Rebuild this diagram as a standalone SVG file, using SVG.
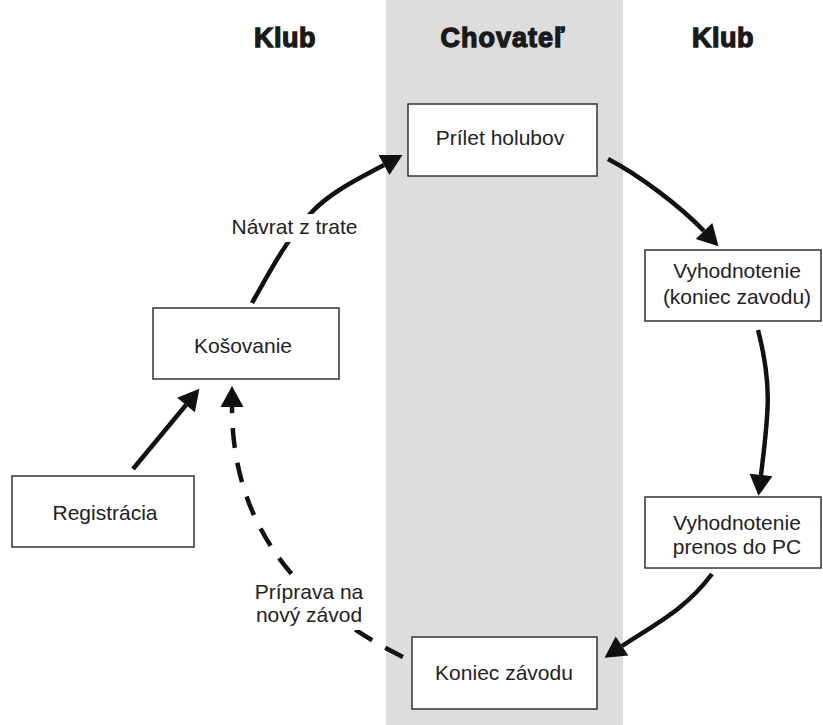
<svg xmlns="http://www.w3.org/2000/svg" width="823" height="725" viewBox="0 0 823 725">
<style>
.box{fill:#fff;stroke:#333;stroke-width:1.5}
.t{font-family:"Liberation Sans",Arial,sans-serif;font-size:21px;fill:#222;text-anchor:middle}
.h{font-family:"Liberation Sans",Arial,sans-serif;font-weight:bold;font-size:27px;fill:#1a1a1a;stroke:#1a1a1a;stroke-width:1.3;text-anchor:middle;letter-spacing:0.5px}
.c{fill:none;stroke:#111;stroke-width:4.5;marker-end:url(#ah)}
.d{stroke-dasharray:20 15}
.bg{fill:#fff}
</style>
<defs>
<marker id="ah" markerUnits="userSpaceOnUse" viewBox="0 0 21 23" refX="0" refY="11.5" markerWidth="21" markerHeight="23" orient="auto" overflow="visible">
<path d="M0,0 L21,11.5 L0,23 Z" fill="#111"/>
</marker>
</defs>
<rect x="386" y="0" width="237" height="725" fill="#dddddd"/>
<g id="headers">
<text class="h" x="285" y="47">Klub</text>
<text class="h" x="503" y="47" style="letter-spacing:1px">Chovateľ</text>
<text class="h" x="723" y="47">Klub</text>
</g>
<g id="connectors">
<path class="c" d="M252,303 C268,275 286,240 310,214 C330,192 360,178 384,165"/>
<rect class="bg" x="229" y="214" width="131" height="28"/>
<text class="t" x="294.5" y="234">Návrat z trate</text>
<path class="c" d="M608,159 C639,175 680,206 704,231"/>
<path class="c" d="M758,330 C773,388 768,416 761,475"/>
<path class="c" d="M712,574 C685,610 655,624 622,646"/>
<path class="c" d="M133,469 L186,405"/>
<path class="c d" d="M403,657 Q232,572 232,407"/>
<rect class="bg" x="252" y="580" width="114" height="50"/>
<text class="t" x="309" y="599">Príprava na</text>
<text class="t" x="309" y="622">nový závod</text>
</g>
<g id="prilet">
<rect class="box" x="408" y="104" width="189" height="72"/>
<text class="t" x="500" y="145">Prílet holubov</text>
</g>
<g id="vyhodnotenie1">
<rect class="box" x="645" y="250" width="176" height="71"/>
<text class="t" x="737" y="278">Vyhodnotenie</text>
<text class="t" x="737" y="304">(koniec zavodu)</text>
</g>
<g id="vyhodnotenie2">
<rect class="box" x="645" y="497" width="176" height="71"/>
<text class="t" x="737" y="530">Vyhodnotenie</text>
<text class="t" x="737" y="554">prenos do PC</text>
</g>
<g id="koniec">
<rect class="box" x="412" y="637" width="185" height="72"/>
<text class="t" x="504" y="680">Koniec závodu</text>
</g>
<g id="kosovanie">
<rect class="box" x="153" y="308" width="186" height="71"/>
<text class="t" x="243" y="353">Košovanie</text>
</g>
<g id="registracia">
<rect class="box" x="12" y="476" width="182" height="71"/>
<text class="t" x="105" y="520">Registrácia</text>
</g>
</svg>
